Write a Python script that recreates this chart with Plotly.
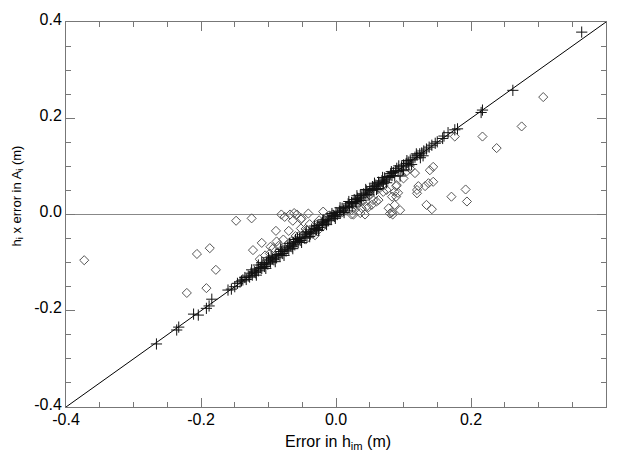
import plotly.graph_objects as go

# ---------------- data ----------------
plus_x = [0.364, 0.262, 0.217, 0.215, 0.180, 0.176, 0.166, 0.160, 0.158, 0.150,
          0.147, 0.142, 0.138, 0.134, 0.130, 0.127, 0.124, 0.120, 0.117, 0.114,
          0.110, 0.107, 0.104, 0.100, 0.097, 0.095, 0.090, 0.092, 0.088, 0.085,
          -0.266, -0.236, -0.233, -0.211, -0.204, -0.192, -0.188, -0.184, -0.160, -0.155,
          -0.150, -0.146, -0.142, -0.140,
          -0.138, -0.135, -0.133, -0.130, -0.128, -0.126, -0.124, -0.121, -0.119, -0.117,
          -0.115, -0.112, -0.110, -0.108, -0.106, -0.103, -0.101, -0.099, -0.097, -0.094,
          -0.092, -0.090, -0.088, -0.085, -0.083, -0.081, -0.079, -0.076, -0.074, -0.072,
          -0.070, -0.067, -0.065, -0.063, -0.061, -0.058, -0.056, -0.054, -0.052, -0.049,
          -0.047, -0.045, -0.043, -0.040, -0.038, -0.036, -0.034, -0.031, -0.029, -0.027,
          -0.025, -0.022, -0.020, -0.018, -0.016, -0.013, -0.011, -0.009, -0.007, -0.004,
          -0.002, 0.000, 0.002, 0.005, 0.007, 0.009, 0.011, 0.014, 0.016, 0.018,
          0.020, 0.023, 0.025, 0.027, 0.029, 0.032, 0.034, 0.036, 0.038, 0.041,
          0.043, 0.045, 0.047, 0.050, 0.052, 0.054, 0.056, 0.059, 0.061, 0.063,
          0.065, 0.068, 0.070, 0.072, 0.074, 0.077, 0.079, 0.081, 0.083,
          0.060, -0.100, -0.060, 0.030, -0.020, 0.070, -0.115, 0.100, 0.108, 0.125,
          -0.125, -0.118, -0.110, -0.104, -0.096, -0.090, -0.082, -0.077, -0.069, -0.064,
          -0.057, -0.051, -0.044, -0.039, -0.032, -0.026, -0.019, -0.014, -0.006, -0.001,
          0.006, 0.012, 0.019, 0.024, 0.031, 0.037, 0.044, 0.049, 0.057, 0.062,
          0.069, 0.075, 0.082, 0.087, 0.093, 0.098, 0.105, 0.112, 0.119, 0.129]
plus_y = [0.379, 0.258, 0.217, 0.212, 0.178, 0.176, 0.170, 0.163, 0.158, 0.151,
          0.148, 0.144, 0.140, 0.136, 0.132, 0.128, 0.126, 0.123, 0.119, 0.115,
          0.113, 0.109, 0.106, 0.103, 0.099, 0.080, 0.096, 0.090, 0.091, 0.087,
          -0.269, -0.240, -0.234, -0.207, -0.209, -0.195, -0.190, -0.176, -0.157, -0.155,
          -0.150, -0.143, -0.140, -0.138,
          -0.136, -0.131, -0.135, -0.128, -0.130, -0.122, -0.126, -0.119, -0.121, -0.113,
          -0.117, -0.110, -0.112, -0.104, -0.108, -0.101, -0.103, -0.095, -0.099, -0.092,
          -0.094, -0.086, -0.090, -0.083, -0.085, -0.077, -0.081, -0.074, -0.076, -0.068,
          -0.072, -0.065, -0.067, -0.059, -0.063, -0.056, -0.058, -0.050, -0.054, -0.047,
          -0.049, -0.041, -0.045, -0.038, -0.040, -0.032, -0.036, -0.029, -0.031, -0.023,
          -0.027, -0.020, -0.022, -0.014, -0.018, -0.011, -0.013, -0.005, -0.009, -0.002,
          -0.004, 0.004, 0.000, 0.007, 0.005, 0.013, 0.009, 0.016, 0.014, 0.022,
          0.018, 0.025, 0.023, 0.031, 0.027, 0.034, 0.032, 0.040, 0.036, 0.043,
          0.041, 0.049, 0.045, 0.052, 0.050, 0.058, 0.054, 0.061, 0.059, 0.067,
          0.063, 0.070, 0.068, 0.076, 0.072, 0.079, 0.077, 0.085, 0.081,
          0.052, -0.090, -0.052, 0.024, -0.016, 0.064, -0.105, 0.093, 0.101, 0.118,
          -0.115, -0.126, -0.100, -0.112, -0.088, -0.098, -0.072, -0.085, -0.060, -0.071,
          -0.049, -0.058, -0.036, -0.046, -0.024, -0.033, -0.011, -0.021, 0.002, -0.008,
          0.014, 0.004, 0.027, 0.016, 0.039, 0.029, 0.052, 0.041, 0.065, 0.054,
          0.077, 0.066, 0.089, 0.080, 0.101, 0.091, 0.112, 0.104, 0.126, 0.122]

diam_x = [-0.373, -0.206, -0.187, -0.178, -0.192, -0.221, -0.148, -0.125, -0.081, -0.076,
          -0.068, -0.062, -0.058, -0.064, -0.041, -0.052, -0.089, -0.070, -0.052, -0.110,
          -0.123, -0.097, -0.113, -0.078, -0.088, -0.093, -0.098, -0.039, -0.043, -0.031,
          -0.019, -0.051, -0.105, -0.085, -0.060, -0.045, -0.030, -0.025, -0.015, -0.010,
          -0.005, -0.020, -0.070, -0.080, -0.035, -0.028, -0.045, -0.055, -0.065,
          0.023, 0.026, 0.036, 0.043, 0.045, 0.053, 0.060, 0.038, 0.023, 0.048,
          0.055, 0.063, 0.078, 0.084, 0.087, 0.075, 0.083, 0.090, 0.080, 0.083,
          0.095, 0.089, 0.089, 0.070, 0.092, 0.117, 0.122, 0.120, 0.120, 0.132,
          0.137, 0.144, 0.139, 0.144, 0.134, 0.142, 0.171, 0.192, 0.194, 0.176,
          0.217, 0.238, 0.275, 0.307, 0.005, 0.010, 0.015, 0.030, 0.035, 0.040,
          0.050, 0.065, 0.070, 0.100, 0.105, 0.110, 0.050, 0.087]
diam_y = [-0.095, -0.082, -0.070, -0.115, -0.153, -0.163, -0.013, -0.008, 0.000, -0.005,
          0.000, 0.003, 0.000, -0.013, 0.002, -0.010, -0.034, -0.034, -0.029, -0.059,
          -0.074, -0.067, -0.093, -0.052, -0.056, -0.070, -0.081, -0.020, -0.032, -0.043,
          0.006, -0.008, -0.085, -0.065, -0.045, -0.030, -0.020, -0.012, -0.008, -0.002,
          0.000, -0.025, -0.060, -0.072, -0.040, -0.035, -0.052, -0.045, -0.055,
          0.000, 0.000, 0.003, 0.000, 0.016, 0.020, 0.027, 0.013, 0.009, 0.015,
          0.030, 0.030, 0.013, 0.000, 0.020, 0.051, 0.037, 0.061, 0.002, 0.005,
          0.009, 0.037, 0.059, 0.047, 0.045, 0.086, 0.059, 0.051, 0.044, 0.059,
          0.065, 0.068, 0.092, 0.099, 0.020, 0.011, 0.037, 0.052, 0.027, 0.162,
          0.162, 0.138, 0.183, 0.244, 0.002, 0.005, 0.008, 0.018, 0.025, 0.030,
          0.040, 0.055, 0.060, 0.075, 0.090, 0.095, 0.047, 0.047]

diag_x = [-0.4, 0.4]
diag_y = [-0.4, 0.4]
zero_x = [-0.4, 0.4]
zero_y = [0.0, 0.0]

tick_vals = [-0.4, -0.2, 0.0, 0.2, 0.4]
tick_text = ["-0.4", "-0.2", "0.0", "0.2", "0.4"]
minor_vals = [-0.35, -0.3, -0.25, -0.15, -0.1, -0.05, 0.05, 0.1, 0.15, 0.25, 0.3, 0.35]

x_title = "Error in h<sub>im</sub> (m)"
y_title = "h<sub>i</sub> x error in A<sub>i</sub> (m)"

FONT = "Liberation Sans, Arial, sans-serif"
AX = "#777777"

fig = go.Figure()
fig.add_trace(go.Scatter(x=zero_x, y=zero_y, mode="lines",
                         line=dict(color="#888888", width=1), hoverinfo="skip"))
fig.add_trace(go.Scatter(x=diag_x, y=diag_y, mode="lines",
                         line=dict(color="#000000", width=1), hoverinfo="skip"))
fig.add_trace(go.Scatter(x=diam_x, y=diam_y, mode="markers",
                         marker=dict(symbol="diamond-open", size=7,
                                     color="#555555", line=dict(width=1, color="#555555"))))
fig.add_trace(go.Scatter(x=plus_x, y=plus_y, mode="markers",
                         marker=dict(symbol="cross-thin-open", size=8,
                                     color="#111111", line=dict(width=1, color="#111111"))))

axis_common = dict(
    range=[-0.4, 0.4], tickmode="array", tickvals=tick_vals, ticktext=tick_text,
    ticks="inside", ticklen=9, tickwidth=1, tickcolor=AX,
    minor=dict(tickmode="array", tickvals=minor_vals, ticks="inside",
               ticklen=5, tickwidth=1, tickcolor=AX),
    showline=True, linecolor=AX, linewidth=1, mirror="ticks",
    showgrid=False, zeroline=False,
    tickfont=dict(family=FONT, size=16, color="#000000"),
)

fig.update_layout(
    width=617, height=453,
    margin=dict(l=66, r=11, t=22, b=46),
    paper_bgcolor="white", plot_bgcolor="white",
    showlegend=False,
    xaxis=dict(**axis_common, ticklabelstandoff=-2),
    yaxis=dict(**axis_common, ticklabelshift=-3),
    annotations=[
        dict(text=x_title, xref="paper", yref="paper", x=0.504, y=-0.0935,
             xanchor="center", yanchor="middle", showarrow=False,
             font=dict(family=FONT, size=16, color="#000000")),
        dict(text=y_title, xref="paper", yref="paper", x=-0.0907, y=0.547,
             xanchor="center", yanchor="middle", showarrow=False, textangle=-90,
             font=dict(family=FONT, size=13, color="#000000")),
    ],
)

fig.write_html("out.html", config={"displayModeBar": False},
               post_script="document.body.style.margin='0px';")
